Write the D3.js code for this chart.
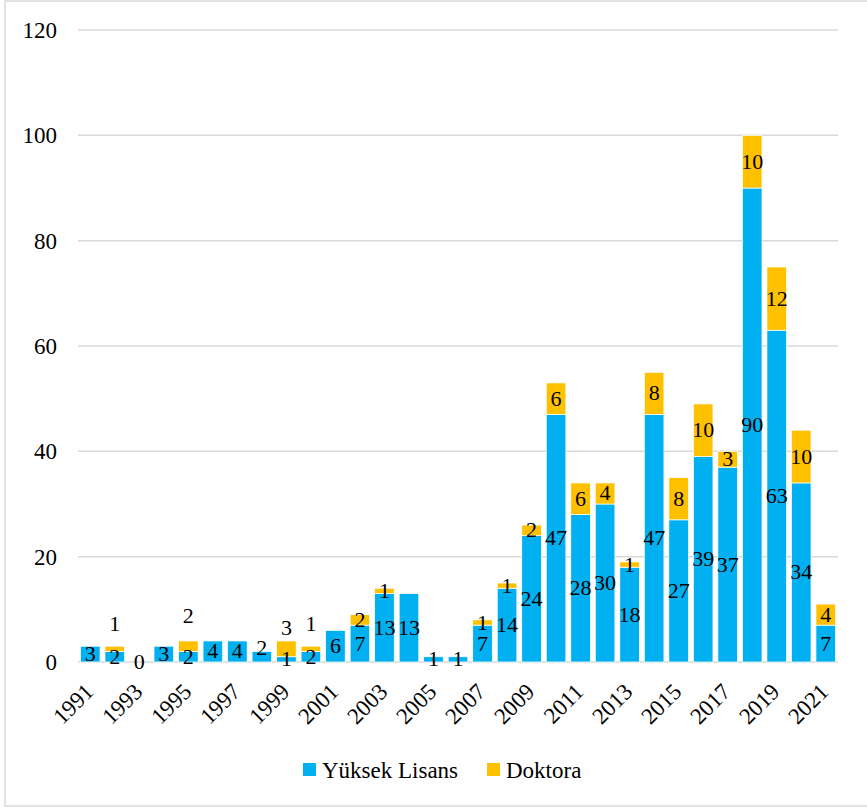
<!DOCTYPE html>
<html>
<head>
<meta charset="utf-8">
<script src="https://cdn.jsdelivr.net/npm/d3@7"></script>
</head>
<body style="margin:0;background:#fff">
<div id="wrap" style="position:relative;width:867px;height:807px;overflow:hidden">
  <svg id="chart" width="867" height="807" style="position:absolute;left:0;top:0"></svg>
  <div id="labels" style="position:absolute;left:0;top:0;width:867px;height:807px"></div>
</div>
<script>
// ---- data ----
const years = [1991,1992,1993,1994,1995,1996,1997,1998,1999,2000,
               2001,2002,2003,2004,2005,2006,2007,2008,2009,2010,
               2011,2012,2013,2014,2015,2016,2017,2018,2019,2020,2021];
const yuksekLisans = [3,2,0,3,2,4,4,2,1,2,
                      6,7,13,13,1,1,7,14,24,47,
                      28,30,18,47,27,39,37,90,63,34,7];
const doktora = [0,1,0,0,2,0,0,0,3,1,
                 0,2,1,0,0,0,1,1,2,6,
                 6,4,1,8,8,10,3,10,12,10,4];
const yTicks = [0,20,40,60,80,100,120];
const xTickYears = years.filter(y => y % 2 === 1);
const seriesNames = ["Yüksek Lisans", "Doktora"];

// ---- style ----
const colors = ["#00B0F0", "#FFC000"];
const FAMILY = '"Liberation Serif", Tinos, "Times New Roman", FreeSerif, serif';
// manual nudges (px) of a few data labels, as in the original
const labelNudge = { "Doktora-1992": -25, "Doktora-1995": -30, "Doktora-1999": -21,
                     "Doktora-2000": -25, "Yüksek Lisans-1998": -9 };

const svg = d3.select("#chart");
const L = d3.select("#labels");
svg.append("rect").attr("x", 5).attr("y", 1).attr("width", 870).attr("height", 805)
  .attr("fill", "#fff").attr("stroke", "#d9d9d9").attr("stroke-width", 1.5);

const x = d3.scaleBand().domain(years).range([78, 838]).paddingInner(0.2).paddingOuter(0.1);
const y = d3.scaleLinear().domain([0, 120]).range([662, 30]);

function textDiv(sel, px) {
  return sel.style("position", "absolute")
    .style("font-family", FAMILY, "important")
    .style("font-size", px + "px", "important")
    .style("font-weight", "normal", "important")
    .style("line-height", "1").style("white-space", "nowrap").style("color", "#000");
}

// gridlines
svg.append("g").selectAll("line").data(yTicks).join("line")
  .attr("x1", 78).attr("x2", 838)
  .attr("y1", d => y(d)).attr("y2", d => y(d))
  .attr("stroke", "#d9d9d9").attr("stroke-width", 1.5);

// y tick labels
textDiv(L.selectAll("div.yt").data(yTicks).join("div").attr("class", "yt"), 23)
  .style("left", "57px").style("top", d => y(d) + "px")
  .style("transform", "translate(-100%,-50%)")
  .text(d => d);

// stacked data
const rows = years.map((yr, i) => ({ year: yr, "Yüksek Lisans": yuksekLisans[i], "Doktora": doktora[i] }));
const stack = d3.stack().keys(seriesNames)(rows);

const layers = svg.append("g").selectAll("g").data(stack).join("g")
  .attr("fill", (d, i) => colors[i]);
layers.selectAll("rect").data(d => d).join("rect")
  .attr("x", d => x(d.data.year))
  .attr("width", x.bandwidth())
  .attr("y", d => y(d[1]))
  .attr("height", d => y(d[0]) - y(d[1]))
  .attr("stroke", "#fff").attr("stroke-width", 0.75);

// data labels
const labelData = [];
stack.forEach(layer => {
  layer.forEach(d => {
    const v = d[1] - d[0];
    if (layer.key === "Doktora" && v === 0) return;
    const nudge = labelNudge[layer.key + "-" + d.data.year] || 0;
    labelData.push({ v, cx: x(d.data.year) + x.bandwidth() / 2, cy: y((d[0] + d[1]) / 2) + nudge });
  });
});
textDiv(L.selectAll("div.dl").data(labelData).join("div").attr("class", "dl"), 22)
  .style("left", d => d.cx + "px").style("top", d => d.cy + "px")
  .style("transform", "translate(-50%,-50%)")
  .text(d => d.v);

// x axis labels (rotated about the end of their baseline)
const rot = L.selectAll("div.rot").data(xTickYears).join("div")
  .attr("class", "rot")
  .style("position", "absolute").style("width", "0").style("height", "0")
  .style("transform-origin", "0 0").style("transform", "rotate(-45deg)")
  .style("left", d => (x(d) + x.bandwidth() / 2 + 4.5) + "px")
  .style("top", "693px");
textDiv(rot.append("div"), 23)
  .style("right", "0").style("top", "-0.8375em")
  .text(d => d);

// legend
const legendX = [303, 487];
svg.append("g").selectAll("rect").data(seriesNames).join("rect")
  .attr("x", (d, i) => legendX[i]).attr("y", 763)
  .attr("width", 13).attr("height", 13).attr("fill", (d, i) => colors[i]);
textDiv(L.selectAll("div.lg").data(seriesNames).join("div").attr("class", "lg"), 23)
  .style("left", (d, i) => (legendX[i] + 19) + "px").style("top", "769.5px")
  .style("transform", "translate(0,-50%)")
  .text(d => d);
</script>
</body>
</html>
